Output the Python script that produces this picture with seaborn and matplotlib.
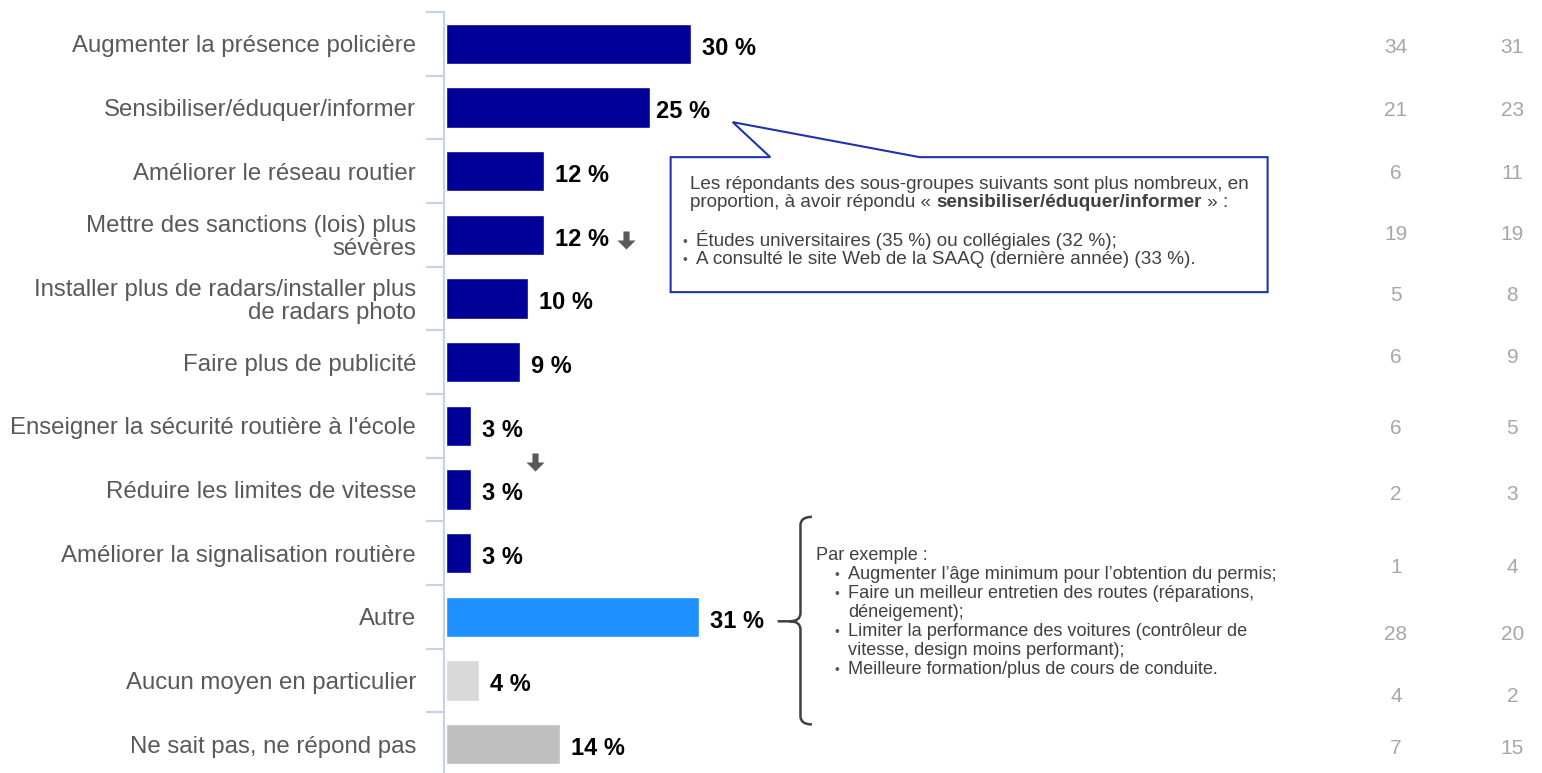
import numpy as np
import pandas as pd
import seaborn as sns
import matplotlib.pyplot as plt
from matplotlib.path import Path
from matplotlib.patches import PathPatch
import matplotlib.transforms as mtransforms

sns.set_style('white')
plt.rcParams['font.family'] = ['Liberation Sans', 'DejaVu Sans']

# data
categories = ["Augmenter la présence policière",
              "Sensibiliser/éduquer/informer",
              "Améliorer le réseau routier",
              "Mettre des sanctions (lois) plus\nsévères",
              "Installer plus de radars/installer plus\nde radars photo",
              "Faire plus de publicité",
              "Enseigner la sécurité routière à l'école",
              "Réduire les limites de vitesse",
              "Améliorer la signalisation routière",
              "Autre",
              "Aucun moyen en particulier",
              "Ne sait pas, ne répond pas"]
values = [30, 25, 12, 12, 10, 9, 3, 3, 3, 31, 4, 14]
col1 = [34, 21, 6, 19, 5, 6, 6, 2, 1, 28, 4, 7]
col2 = [31, 23, 11, 19, 8, 9, 5, 3, 4, 20, 2, 15]
bar_colors = ['#000099'] * 9 + ['#1e90ff', '#d9d9d9', '#bfbfbf']

df = pd.DataFrame({'cat': categories, 'val': values})

fig = plt.figure(figsize=(15.42, 7.73), dpi=100)
ax = fig.add_axes([444 / 1542, -3 / 773, 1098 / 1542, 764 / 773])

sns.barplot(data=df, x='val', y='cat', hue='cat', palette=bar_colors,
            legend=False, width=0.63, ax=ax, saturation=1)

ax.set_xlim(-0.25, 134.2)
ax.set_ylim(11.5, -0.5)
ax.set_xlabel('')
ax.set_ylabel('')
ax.set_xticks([])
for s in ['top', 'right', 'bottom']:
    ax.spines[s].set_visible(False)
ax.spines['left'].set_color('#c5d3e3')
ax.spines['left'].set_linewidth(1.6)

# labels at centers, ticks between categories
ax.tick_params(axis='y', which='major', left=True, length=0, pad=20,
               labelsize=17.3, labelcolor='#595959')
ax.set_yticks(np.arange(-0.5, 11, 1), minor=True)
ax.tick_params(axis='y', which='minor', left=True, length=13, width=1.6,
               color='#c5d3e3', direction='out')
for lab in ax.get_yticklabels():
    lab.set_linespacing(1.05)

# value labels
for i, v in enumerate(values):
    dx = 4 if i == 1 else 8
    ax.annotate(f'{v} %', xy=(v, i), xytext=(dx, -3), textcoords='offset points',
                ha='left', va='center', fontsize=17, fontweight='bold', color='black')

# down arrows (significant decrease)
arrow = Path([(-0.17, 0.5), (0.17, 0.5), (0.17, 0.0), (0.5, 0.0), (0.0, -0.5),
              (-0.5, 0.0), (-0.17, 0.0), (-0.17, 0.5)],
             [Path.MOVETO] + [Path.LINETO] * 6 + [Path.CLOSEPOLY])
ax.plot([22.0, 10.9], [3.08, 6.57], ls='none', marker=arrow, markersize=13,
        color='#58595b', markeredgewidth=0)

# right-hand columns
trans = mtransforms.blended_transform_factory(ax.transAxes, ax.transData)
col_dy = [0.05, 0.04, 0.03, 0.0, -0.04, -0.08, 0.04, 0.08, 0.23, 0.27, 0.25, 0.07]
for i in range(len(categories)):
    ax.text(0.867, i + col_dy[i], str(col1[i]), transform=trans, ha='center',
            va='center', fontsize=15, color='#a6a6ad')
    ax.text(0.973, i + col_dy[i], str(col2[i]), transform=trans, ha='center',
            va='center', fontsize=15, color='#a6a6ad')

# callout box for "Sensibiliser"
bx0, bx1, by0, by1 = 27.5, 100.6, 1.78, 3.90
verts = [(bx0, by0), (39.7, by0), (35.1, 1.23), (58.0, by0), (bx1, by0),
         (bx1, by1), (bx0, by1), (bx0, by0)]
codes = [Path.MOVETO] + [Path.LINETO] * 6 + [Path.CLOSEPOLY]
ax.add_patch(PathPatch(Path(verts, codes), facecolor='white',
                       edgecolor='#1f35a5', lw=1.5, zorder=5))
fs = 13.6
txt_kw = dict(fontsize=fs, color='#404040', ha='left', va='baseline', zorder=6)
ax.text(29.9, 2.28, 'Les répondants des sous-groupes suivants sont plus nombreux, en', **txt_kw)
t1 = ax.text(29.9, 2.565, 'proportion, à avoir répondu « ', **txt_kw)
t2 = ax.annotate('sensibiliser/éduquer/informer', xy=(1, 0), xycoords=t1,
                 fontsize=fs, fontweight='bold', color='#404040',
                 ha='left', va='bottom', zorder=6)
ax.annotate(' » :', xy=(1, 0), xycoords=t2, fontsize=fs, color='#404040',
            ha='left', va='bottom', zorder=6)
ax.text(29.0, 3.18, '•', fontsize=10, color='#595959', ha='left', va='baseline', zorder=6)
ax.text(30.6, 3.18, 'Études universitaires (35 %) ou collégiales (32 %);', **txt_kw)
ax.text(29.0, 3.465, '•', fontsize=10, color='#595959', ha='left', va='baseline', zorder=6)
ax.text(30.6, 3.465, 'A consulté le site Web de la SAAQ (dernière année) (33 %).', **txt_kw)

# brace next to "Autre"
bxv, tipx, hook = 43.4, 40.6, 44.8
ytop, ytip, ybot = 7.43, 9.07, 10.69
r = 0.13
brace = [(hook, ytop), (bxv, ytop), (bxv, ytop + r),
         (bxv, ytip - r), (bxv, ytip), (bxv - 1.3, ytip), (tipx, ytip),
         (bxv - 1.3, ytip), (bxv, ytip), (bxv, ytip + r),
         (bxv, ybot - r), (bxv, ybot), (hook, ybot)]
bcodes = [Path.MOVETO, Path.CURVE3, Path.CURVE3,
          Path.LINETO, Path.CURVE3, Path.CURVE3, Path.LINETO,
          Path.MOVETO, Path.CURVE3, Path.CURVE3,
          Path.LINETO, Path.CURVE3, Path.CURVE3]
ax.add_patch(PathPatch(Path(brace, bcodes), facecolor='none',
                       edgecolor='#404040', lw=1.8, zorder=5))

ex_kw = dict(txt_kw, fontsize=13.1)
ex_lines = [("", "Par exemple :"),
            ("•", "Augmenter l’âge minimum pour l’obtention du permis;"),
            ("•", "Faire un meilleur entretien des routes (réparations,"),
            ("", "déneigement);"),
            ("•", "Limiter la performance des voitures (contrôleur de"),
            ("", "vitesse, design moins performant);"),
            ("•", "Meilleure formation/plus de cours de conduite.")]
for k, (bul, line) in enumerate(ex_lines):
    y = 8.10 + k * 0.30
    if k == 0:
        ax.text(45.3, y, line, **ex_kw)
        continue
    if bul:
        ax.text(47.6, y, bul, fontsize=10, color='#595959', ha='left',
                va='baseline', zorder=6)
    ax.text(49.2, y, line, **ex_kw)

fig.savefig('out.png', dpi=100)
